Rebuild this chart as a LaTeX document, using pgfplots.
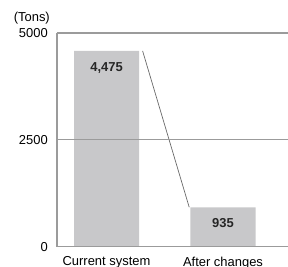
\documentclass[border=0pt]{standalone}
\usepackage{fontspec}
\setmainfont{Liberation Sans}
\usepackage{pgfplots}
\pgfplotsset{compat=1.18}
\definecolor{barc}{RGB}{200,200,202}
\definecolor{gridc}{RGB}{155,155,155}
\definecolor{linec}{RGB}{105,105,105}
\begin{document}
\begin{tikzpicture}[font=\fontsize{13}{15}\selectfont]
\begin{axis}[
  scale only axis, width=231bp, height=213.7bp,
  xmin=-0.425, xmax=1.558, ymin=0, ymax=5000,
  axis lines*=left,
  axis line style={-, draw=gridc, line width=1.2bp},
  axis on top,
  clip=false,
  major tick length=0pt,
  xtick={0,1}, xticklabels={Current system, After changes},
  ytick={0,2500,5000}, yticklabels={0,2500,5000},
  scaled y ticks=false,
  ymajorgrids, grid style={draw=gridc, line width=1.2bp},
  yticklabel style={inner sep=0pt, anchor=east, xshift=-9bp},
  xticklabel style={inner sep=0pt, anchor=north, yshift=-10bp},
  /pgf/number format/assume math mode=true,
]
\addplot[ybar, bar width=0.558, fill=barc, draw=none,
  nodes near coords, point meta=explicit symbolic,
  nodes near coords style={font=\fontsize{13}{15}\selectfont\bfseries, anchor=north, inner sep=0pt, yshift=-11bp, text=black!85}]
  table[meta=lab] {
x y lab
0 4580 4,475
1 923 935
};
\addplot[linec, line width=0.7bp, mark=none] coordinates {(0.31,4580) (0.71,923)};
\coordinate (O) at (rel axis cs:0,0);
\coordinate (TL) at (rel axis cs:0,1);
\end{axis}
\node[anchor=east, inner sep=0pt] at ([xshift=-7bp, yshift=15bp]TL) {(Tons)};
\pgfresetboundingbox
\path (O) ++(-57bp,-20.3bp) rectangle ++(288bp,267bp);
\end{tikzpicture}
\end{document}
